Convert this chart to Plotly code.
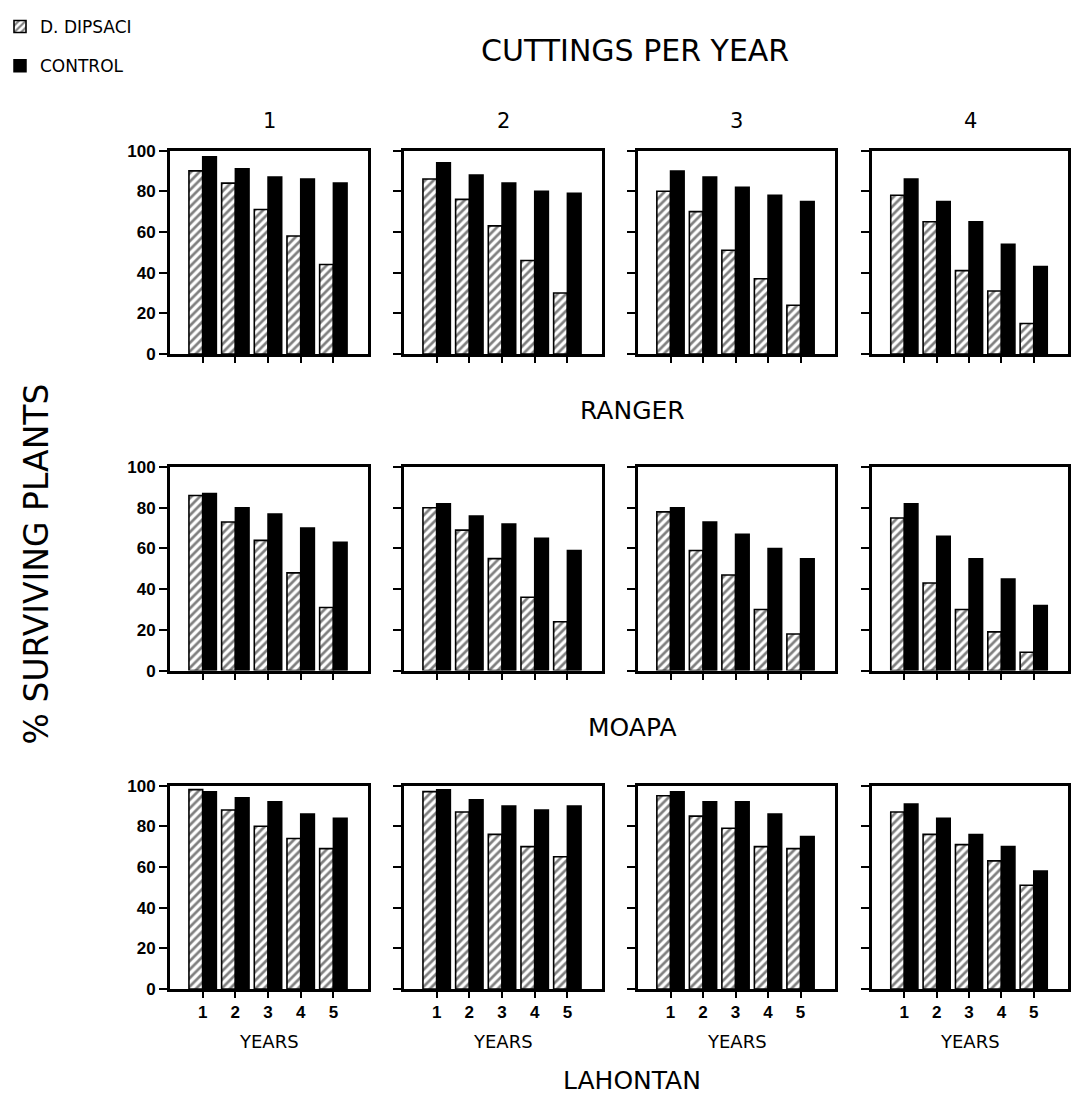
import plotly.graph_objects as go

years = [1, 2, 3, 4, 5]
cuttings = ["1", "2", "3", "4"]
varieties = ["RANGER", "MOAPA", "LAHONTAN"]

# % surviving plants, one list per cuttings-per-year level (1..4)
ranger_dipsaci = [[90, 84, 71, 58, 44], [86, 76, 63, 46, 30], [80, 70, 51, 37, 24], [78, 65, 41, 31, 15]]
ranger_control = [[97, 91, 87, 86, 84], [94, 88, 84, 80, 79], [90, 87, 82, 78, 75], [86, 75, 65, 54, 43]]
moapa_dipsaci = [[86, 73, 64, 48, 31], [80, 69, 55, 36, 24], [78, 59, 47, 30, 18], [75, 43, 30, 19, 9]]
moapa_control = [[87, 80, 77, 70, 63], [82, 76, 72, 65, 59], [80, 73, 67, 60, 55], [82, 66, 55, 45, 32]]
lahontan_dipsaci = [[98, 88, 80, 74, 69], [97, 87, 76, 70, 65], [95, 85, 79, 70, 69], [87, 76, 71, 63, 51]]
lahontan_control = [[97, 94, 92, 86, 84], [98, 93, 90, 88, 90], [97, 92, 92, 86, 75], [91, 84, 76, 70, 58]]

dipsaci = [ranger_dipsaci, moapa_dipsaci, lahontan_dipsaci]
control = [ranger_control, moapa_control, lahontan_control]

W, H = 1076, 1118
cols_px = [(170, 368), (404, 602), (638, 835), (872, 1068)]
rows_px = [(144, 351), (466, 673), (790, 997)]
FONT = "Liberation Sans"
BIG = "DejaVu Sans"

fig = go.Figure()
layout = {}
k = 0
for r in range(3):
    for c in range(4):
        k += 1
        xa = "x" if k == 1 else f"x{k}"
        ya = "y" if k == 1 else f"y{k}"
        fig.add_trace(go.Bar(
            x=years, y=dipsaci[r][c], name="D. DIPSACI", xaxis=xa, yaxis=ya,
            marker=dict(color="white", line=dict(color="black", width=1.6),
                        pattern=dict(shape="/", fgcolor="black", bgcolor="white", size=6, solidity=0.45)),
            showlegend=(k == 1), legendgroup="d", offsetgroup="d"))
        fig.add_trace(go.Bar(
            x=years, y=control[r][c], name="CONTROL", xaxis=xa, yaxis=ya,
            marker=dict(color="black", line=dict(color="black", width=1.5)),
            showlegend=(k == 1), legendgroup="c", offsetgroup="c"))
        x0, x1 = cols_px[c]
        y0, y1 = rows_px[r]
        layout["xaxis" if k == 1 else f"xaxis{k}"] = dict(
            domain=[x0 / W, x1 / W], range=[0, 6.06], anchor=ya,
            tickvals=years, ticks="outside", ticklen=6, tickwidth=2, tickcolor="black",
            showticklabels=(r == 2), tickfont=dict(size=17, family=FONT, color="black", weight="bold"),
            showline=True, linecolor="black", linewidth=3, mirror=True,
            showgrid=False, zeroline=False, fixedrange=True)
        layout["yaxis" if k == 1 else f"yaxis{k}"] = dict(
            domain=[1 - y1 / H, 1 - y0 / H], range=[0, 100], anchor=xa,
            tickvals=[0, 20, 40, 60, 80, 100], ticks="outside", ticklen=8, tickwidth=2, tickcolor="black",
            showticklabels=(c == 0), tickfont=dict(size=17, family=FONT, color="black", weight="bold"),
            showline=True, linecolor="black", linewidth=3, mirror=True,
            showgrid=False, zeroline=False, fixedrange=True)

ann = []
ann.append(dict(text="CUTTINGS PER YEAR", x=635 / W, y=1 - 42 / H, font=dict(size=30)))
for c, lab in enumerate(cuttings):
    ann.append(dict(text=lab, x=(cols_px[c][0] + cols_px[c][1]) / 2 / W, y=1 - 114 / H, font=dict(size=21)))
for c in range(4):
    ann.append(dict(text="YEARS", x=(cols_px[c][0] + cols_px[c][1]) / 2 / W, y=1 - 1050 / H, font=dict(size=18)))
for name, py in zip(varieties, [408, 731, 1090]):
    ann.append(dict(text=name, x=632 / W, y=1 - py / H, font=dict(size=25)))
ann.append(dict(text="% SURVIVING PLANTS", x=36 / W, y=1 - 565 / H, textangle=-90, font=dict(size=33)))
for a in ann:
    a.update(xref="paper", yref="paper", showarrow=False, xanchor="center", yanchor="middle")
    a["font"].update(family=BIG, color="black")

fig.update_layout(
    width=W, height=H, margin=dict(l=0, r=0, t=0, b=0),
    paper_bgcolor="white", plot_bgcolor="white",
    barmode="group", bargap=0.16, bargroupgap=0,
    annotations=ann,
    legend=dict(x=0.0, y=1.0, xanchor="left", yanchor="top", bgcolor="rgba(0,0,0,0)",
                font=dict(size=17, family=BIG, color="black"), tracegroupgap=14, itemwidth=30),
    showlegend=True,
    **layout)

fig.write_html("out.html")
